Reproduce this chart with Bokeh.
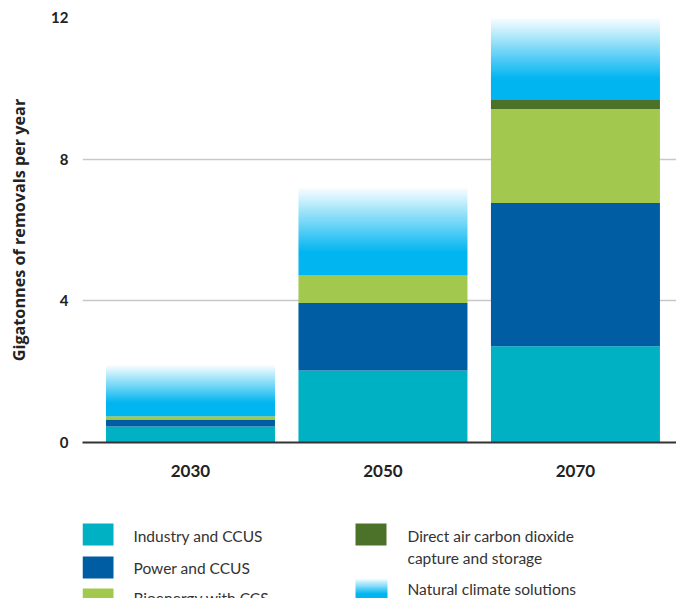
import numpy as np
from bokeh.plotting import figure
from bokeh.layouts import column
from bokeh.models import Range1d, FixedTicker, ColumnDataSource
from bokeh.core.properties import value
from bokeh.embed import file_html
from bokeh.resources import INLINE

# ---------------- data ----------------
years = ["2030", "2050", "2070"]
industry = [0.45, 2.03, 2.72]
power = [0.20, 1.91, 4.04]
bioenergy = [0.09, 0.78, 2.66]
dac = [0.0, 0.0, 0.25]
natural = [1.45, 2.48, 2.33]
y_ticks = [0, 4, 8, 12]

series_names = ["Industry and CCUS", "Power and CCUS", "Bioenergy with CCS",
                "Direct air carbon dioxide\ncapture and storage", "Natural climate solutions"]
colors = ["#00B1C3", "#005DA3", "#A2C94D", "#4C7129", "#00B5F0"]

FONT = "Lato"
TITLE_FONT = "Open Sans"


def gradient_image(n=256, solid=0.26):
    """Vertical gradient (row 0 = bottom): solid blue, fading to transparent at top."""
    img = np.empty((n, 1), dtype=np.uint32)
    view = img.view(dtype=np.uint8).reshape((n, 1, 4))
    for k in range(n):
        t = (k + 0.5) / n
        u = 0.0 if t <= solid else (t - solid) / (1 - solid)
        view[k, 0, 0] = 0x00
        view[k, 0, 1] = 0xB5
        view[k, 0, 2] = 0xF0
        view[k, 0, 3] = int(round(255 * (1 - u)))
    return img


# ---------------- main chart ----------------
xs = list(range(len(years)))
W = 0.878
FRAME_LEFT = 82
p = figure(width=676, height=495, output_backend="svg", toolbar_location=None,
           x_range=Range1d(-0.561, 2.525), y_range=Range1d(0, 12),
           min_border_left=FRAME_LEFT, min_border_right=0, min_border_top=17, min_border_bottom=53)
p.outline_line_color = None

src = ColumnDataSource(dict(x=xs, industry=industry, power=power, bio=bioenergy, dac=dac))
p.vbar_stack(["industry", "power", "bio", "dac"], x="x", width=W, source=src,
             color=colors[:4], line_color=None)

# gradient natural-solutions segment on top of each stack
g = gradient_image()
bases = [industry[i] + power[i] + bioenergy[i] + dac[i] for i in xs]
p.image_rgba(image=[g] * len(xs), x=[x - W / 2 for x in xs], y=bases,
             dw=[W] * len(xs), dh=natural)

# axes
p.xaxis.ticker = FixedTicker(ticks=xs)
p.xaxis.major_label_overrides = {x: y for x, y in zip(xs, years)}
p.xaxis.major_tick_line_color = None
p.xaxis.major_tick_out = 0
p.xaxis.major_tick_in = 0
p.xaxis.minor_tick_line_color = None
p.xaxis.axis_line_color = "#333333"
p.xaxis.axis_line_width = 2
p.xaxis.major_label_text_font = FONT
p.xaxis.major_label_text_font_style = "bold"
p.xaxis.major_label_text_font_size = "17px"
p.xaxis.major_label_text_color = "#222222"
p.xaxis.major_label_standoff = 22

p.yaxis.ticker = FixedTicker(ticks=y_ticks)
p.yaxis.axis_line_color = None
p.yaxis.major_tick_line_color = None
p.yaxis.major_tick_out = 0
p.yaxis.major_tick_in = 0
p.yaxis.minor_tick_line_color = None
p.yaxis.major_label_text_font = FONT
p.yaxis.major_label_text_font_style = "bold"
p.yaxis.major_label_text_font_size = "15px"
p.yaxis.major_label_text_color = "#222222"
p.yaxis.major_label_standoff = 14
p.yaxis.axis_label = "Gigatonnes of removals per year"
p.yaxis.axis_label_text_font = TITLE_FONT
p.yaxis.axis_label_text_font_style = "bold"
p.yaxis.axis_label_text_font_size = "16.2px"
p.yaxis.axis_label_text_color = "#222222"
p.yaxis.axis_label_standoff = 18

p.xgrid.grid_line_color = None
p.ygrid.grid_line_color = "#C8C8C8"
p.ygrid.grid_line_width = 1.5

# ---------------- legend (separate figure; coords = page pixels) ----------------
LG_TOP, LG_H = 495, 103
lg = figure(width=676, height=LG_H, output_backend="svg", toolbar_location=None,
            x_range=Range1d(FRAME_LEFT, 676), y_range=Range1d(0, LG_H),
            x_axis_location=None, y_axis_location=None,
            min_border_left=FRAME_LEFT, min_border_right=0, min_border_top=0, min_border_bottom=0)
lg.outline_line_color = None
lg.grid.visible = False


def ly(py):
    return LG_TOP + LG_H - py


sw_x = [82, 82, 82, 355, 355]
sw_y = [523, 556, 588, 523, 578]
tx_x = [133, 133, 133, 407, 407]
tx_y = [535, 567, 597, 535, 588]
SW_W, SW_H = 31, 22
for i in range(4):
    lg.quad(left=[sw_x[i]], right=[sw_x[i] + SW_W], top=[ly(sw_y[i])], bottom=[ly(sw_y[i] + SW_H)],
            color=colors[i], line_color=None)
# gradient swatch
lg.image_rgba(image=[gradient_image(64, 0.3)], x=[sw_x[4]], y=[ly(sw_y[4] + SW_H)],
              dw=[SW_W + 1], dh=[SW_H])

lines_text, lines_x, lines_y = [], [], []
for i, name in enumerate(series_names):
    for j, part in enumerate(name.split("\n")):
        lines_text.append(part)
        lines_x.append(tx_x[i])
        lines_y.append(ly(tx_y[i] + j * 22))
lg.text(x=lines_x, y=lines_y, text=lines_text, text_font=value(FONT),
        text_font_size="15.5px", text_color="#333333", text_baseline="middle", text_align="left")

layout = column(p, lg, spacing=0)
open("out.html", "w").write(file_html(layout, INLINE))
